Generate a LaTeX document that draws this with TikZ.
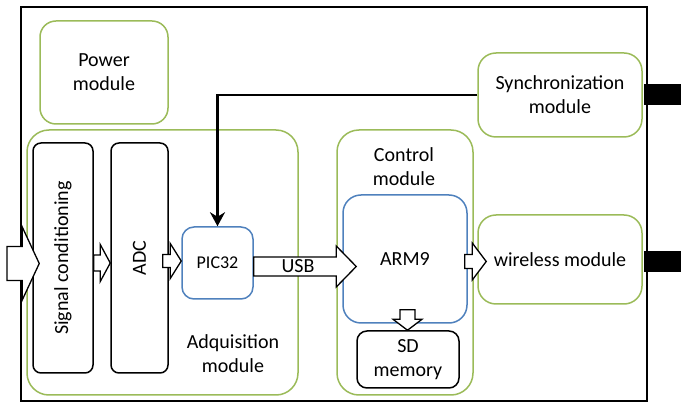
\documentclass[tikz,border=0pt]{standalone}
\usepackage{fontspec}
\setmainfont{Carlito}
\usetikzlibrary{arrows.meta}
\usetikzlibrary{calc}
\definecolor{leafgreen}{RGB}{155,187,89}
\definecolor{steelblue}{RGB}{79,129,189}

\tikzset{
  module/.style={draw=leafgreen, line width=1.5pt, rounded corners=16pt, align=center},
  chip/.style={draw=steelblue, line width=1.5pt, rounded corners=12pt, align=center},
  stage/.style={draw=black, line width=1.5pt, rounded corners=8pt, align=center},
  fat/.style={draw=black, fill=white, line width=1.3pt, line join=miter},
}

% block arrow to the right: from, to, shaft half, head half, head length
\newcommand{\fatright}[5]{%
  \draw[fat] let \p1=(#1), \p2=(#2) in
    (\x1,\y1+#3) -- (\x2-#5,\y1+#3) -- (\x2-#5,\y1+#4) -- (\x2,\y1)
    -- (\x2-#5,\y1-#4) -- (\x2-#5,\y1-#3) -- (\x1,\y1-#3) -- cycle;}
% block arrow downwards: from, to, shaft half, head half, head length
\newcommand{\fatdown}[5]{%
  \draw[fat] let \p1=(#1), \p2=(#2) in
    (\x1-#3,\y1) -- (\x1-#3,\y2+#5) -- (\x1-#4,\y2+#5) -- (\x1,\y2)
    -- (\x1+#4,\y2+#5) -- (\x1+#3,\y2+#5) -- (\x1+#3,\y1) -- cycle;}

\begin{document}
\begin{tikzpicture}[x=1pt, y=-1pt, font=\fontsize{20}{24}\selectfont]

    \useasboundingbox (0,0) rectangle (681,403);
    \draw[line width=1.5pt] (21,7) rectangle (647,401);

    % modules
    \node[module, minimum width=128pt, minimum height=103pt] (power) at (104,72.5) {Power\\module};
    \node[module, minimum width=271pt, minimum height=265pt, rounded corners=22pt] (acq) at (162.5,262.5) {};
    \node[module, minimum width=136pt, minimum height=265pt, rounded corners=22pt] (ctrl) at (405,262.5) {};
    \node[module, minimum width=164pt, minimum height=84pt, rounded corners=18pt] (sync) at (560,95) {Synchronization\\module};
    \node[module, minimum width=164pt, minimum height=89pt, rounded corners=18pt] (wl) at (560,259.5) {wireless module};
    \node[align=center] (acqlabel) at (233,354) {Adquisition\\module};
    \node[align=center] (ctrllabel) at (404,167) {Control\\module};

    % acquisition chain
    \node[stage, minimum width=60pt, minimum height=230pt] (sc) at (63,258) {};
    \node[rotate=90] (sclabel) at (sc) {Signal conditioning};
    \node[stage, minimum width=57pt, minimum height=230pt] (adc) at (139.5,258) {};
    \node[rotate=90] (adclabel) at (adc) {ADC};
    \node[chip, minimum width=71pt, minimum height=72pt, font=\fontsize{18}{22}\selectfont] (pic) at (217.5,263) {PIC32};

    % control side
    \node[chip, minimum width=124pt, minimum height=128pt, rounded corners=18pt] (arm) at (405,259) {ARM9};
    \node[stage, minimum width=102pt, minimum height=57pt, rounded corners=10pt] (sd) at (408,359.5) {SD\\memory};

    % connectors
    \fill ($(sync.east)+(0.75,-11)$) rectangle ($(sync.east)+(40,10)$);
    \fill ($(wl.east)+(0.75,-8)$) rectangle ($(wl.east)+(40,13)$);
    \draw[line width=2.5pt, -{Stealth[length=14pt,width=15pt]}] (sync.west) -| (pic.north);

    \coordinate (in) at (7,263.5);
    \fatright{in}{$(sc.west)+(7,0)$}{17pt}{36.5pt}{17pt}
    \fatright{$(sc.east)+(0,5)$}{adc.west}{8pt}{18.5pt}{10pt}
    \fatright{$(adc.east)+(-6,3)$}{pic.west}{6.5pt}{17.5pt}{11pt}
    \fatright{$(pic.east)+(0,3.5)$}{$(arm.west)+(14,0)$}{9.5pt}{20.5pt}{20pt}
    \node (usb) at (298,266) {USB};
    \fatright{$(arm.east)+(-3,2.5)$}{$(wl.west)+(9,0)$}{7pt}{18.5pt}{14pt}
    \fatdown{$(arm.south)+(2.5,-14)$}{sd.north}{7.5pt}{14.5pt}{11pt}

\end{tikzpicture}
\end{document}
